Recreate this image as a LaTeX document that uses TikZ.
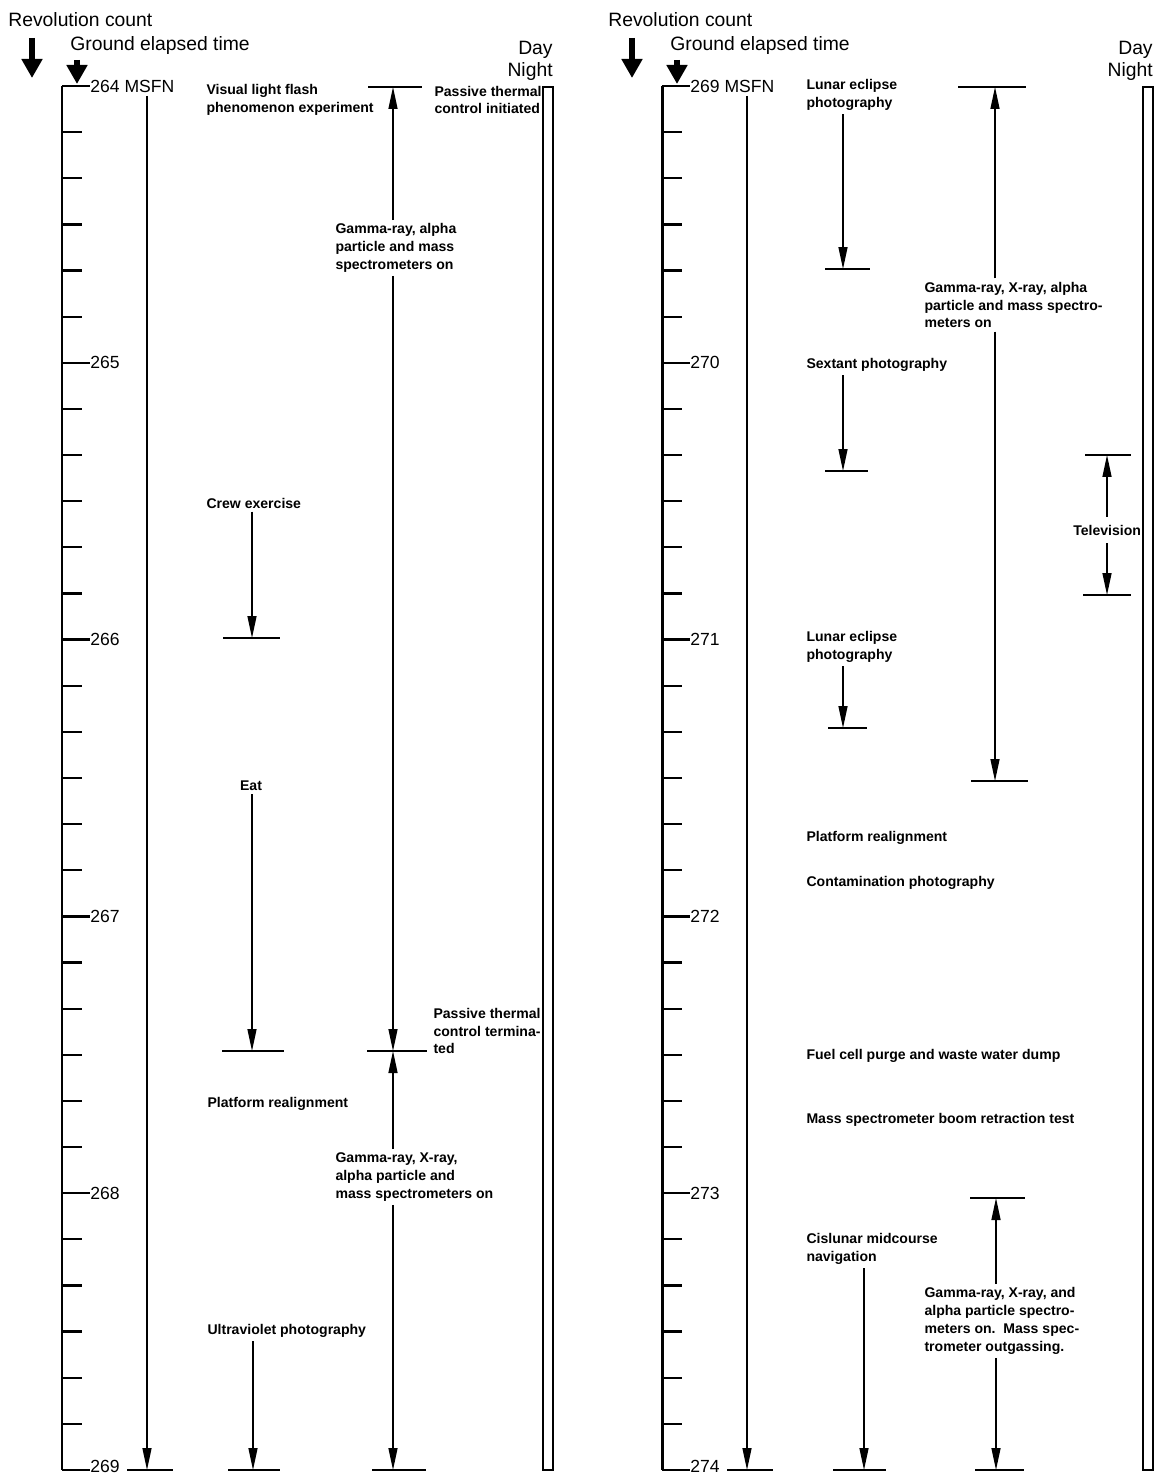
\documentclass[tikz,border=0pt]{standalone}
\usepackage{fontspec}
\setmainfont{Liberation Sans}
\usepackage{tikz}
\usetikzlibrary{arrows.meta, calc}

\tikzset{
    hdr/.style={font=\fontsize{11}{13}\selectfont, inner sep=0pt},
    hrlbl/.style={font=\fontsize{10}{12}\selectfont, anchor=west, inner sep=0pt},
    evlbl/.style={font=\fontsize{8}{10.2}\selectfont\bfseries, align=left, anchor=west, inner sep=0pt, outer sep=2pt},
    axisline/.style={line width=1.7pt},
    tickline/.style={line width=1.3pt},
    evline/.style={line width=0.8pt, -{Triangle[length=0.44cm, width=0.18cm]}},
    evbar/.style={line width=1.1pt},
    bigarrow/.style={line width=3.4pt, -{Triangle[length=0.38cm, width=0.40cm]}},
    dnbar/.style={line width=0.9pt},
}

\begin{document}
\begin{tikzpicture}[x=0.02cm, y=-0.02cm]
    \useasboundingbox (0,0) rectangle (1157,1476);

    % Two time columns, 600 apart
    \foreach \dx/\h [count=\p] in {0/264, 600/269} {
        % Headings
        \node[hdr, anchor=west] (rev\p) at (8+\dx, 20) {Revolution count};
        \node[hdr, anchor=west] (get\p) at (70+\dx, 46) {Ground elapsed time};
        \node[hdr, anchor=east] (day\p) at (553+\dx, 50) {Day};
        \node[hdr, anchor=east] (night\p) at (553+\dx, 72) {Night};
        \coordinate (revtop\p) at (32+\dx, 38);
        \coordinate (revtip\p) at (32+\dx, 78);
        \coordinate (gettop\p) at (77+\dx, 60);
        \coordinate (gettip\p) at (77+\dx, 84);
        \draw[bigarrow] (revtop\p) -- (revtip\p);
        \draw[bigarrow] (gettop\p) -- (gettip\p);

        % Time axis
        \coordinate (axtop\p) at (62+\dx, 86);
        \coordinate (axbot\p) at (62+\dx, 1470);
        \draw[axisline] (axtop\p) -- (axbot\p);
        \foreach \k in {0,...,5} {
            \pgfmathsetmacro\yy{86+276.8*\k}
            \pgfmathsetmacro\ly{\yy-4*(\k==5)}
            \pgfmathtruncatemacro\hh{\h+\k}
            \coordinate (tk\p-\k) at (62+\dx, \yy);
            \node[hrlbl] (hr\p-\k) at (90+\dx, \ly) {\hh\ifnum\k=0\ MSFN\fi};
            \draw[tickline] (tk\p-\k) -- (hr\p-\k.west |- tk\p-\k);
        }
        \foreach \k in {0,...,4}
            \foreach \m in {1,...,5}
                \draw[tickline] (62+\dx, 86+276.8*\k+46.13*\m) -- +(20,0);

        % MSFN coverage
        \coordinate (msfntop\p) at (147+\dx, 96);
        \coordinate (msfnend\p) at (147+\dx, 1470);
        \draw[evline] (msfntop\p) -- (msfnend\p);
        \draw[evbar] ($(msfnend\p)+(-20,0)$) -- ($(msfnend\p)+(26,0)$);

        % Day/night strip
        \draw[dnbar] (543+\dx, 87) rectangle (553+\dx, 1470);
    }

    % ---- Left column: 264 to 269 ----
    \node[evlbl] (vlf) at (203, 100) {Visual light flash\\phenomenon experiment};
    \node[evlbl] (ptcon) at (431, 100) {Passive thermal\\control initiated};

    \node[evlbl] (crew) at (203, 503) {Crew exercise};
    \coordinate (crewend) at (252, 638);
    \draw[evline] (crew.south -| crewend) -- (crewend);
    \draw[evbar] (223, 638) -- (280, 638);

    \node[evlbl, anchor=center] (eat) at (251, 786) {Eat};
    \coordinate (eatend) at (252, 1051);
    \draw[evline] (eat.south -| eatend) -- (eatend);
    \draw[evbar] (222, 1051) -- (284, 1051);

    \node[evlbl] (plat1) at (204, 1104) {Platform realignment};

    \node[evlbl] (uv) at (204, 1331) {Ultraviolet photography};
    \coordinate (uvend) at (253, 1470);
    \draw[evline] (uv.south -| uvend) -- (uvend);
    \draw[evbar] (228, 1470) -- (280, 1470);

    % Spectrometers, first run
    \node[evlbl] (gam1) at (332, 248) {Gamma-ray, alpha\\particle and mass\\spectrometers on};
    \coordinate (g1top) at (393, 87);
    \coordinate (g1end) at (393, 1051);
    \draw[evline] (gam1.north -| g1top) -- (g1top);
    \draw[evline] (gam1.south -| g1end) -- (g1end);
    \draw[evbar] (368, 87) -- (422, 87);
    \draw[evbar] (367, 1051) -- (427, 1051);
    \node[evlbl] (ptcoff) at (430, 1031) {Passive thermal\\control termina-\\ted};

    % Spectrometers, second run
    \node[evlbl] (gam2) at (332, 1177) {Gamma-ray, X-ray,\\alpha particle and\\mass spectrometers on};
    \coordinate (g2end) at (393, 1470);
    \draw[evline] (gam2.north -| g1end) -- (g1end);
    \draw[evline] (gam2.south -| g2end) -- (g2end);
    \draw[evbar] (372, 1470) -- (426, 1470);

    % ---- Right column: 269 to 274 ----
    \node[evlbl] (lun1) at (803, 95) {Lunar eclipse\\photography};
    \coordinate (lun1end) at (843, 269);
    \draw[evline] (lun1.south -| lun1end) -- (lun1end);
    \draw[evbar] (825, 269) -- (870, 269);

    \node[evlbl] (sext) at (803, 365) {Sextant photography};
    \coordinate (sextend) at (843, 471);
    \draw[evline] (sext.south -| sextend) -- (sextend);
    \draw[evbar] (825, 471) -- (868, 471);

    \node[evlbl] (lun2) at (803, 647) {Lunar eclipse\\photography};
    \coordinate (lun2end) at (843, 728);
    \draw[evline] (lun2.south -| lun2end) -- (lun2end);
    \draw[evbar] (828, 728) -- (867, 728);

    \node[evlbl] (plat2) at (803, 838) {Platform realignment};
    \node[evlbl] (contam) at (803, 883) {Contamination photography};
    \node[evlbl] (fuel) at (803, 1056) {Fuel cell purge and waste water dump};
    \node[evlbl] (boom) at (803, 1120) {Mass spectrometer boom retraction test};

    \node[evlbl] (cis) at (803, 1249) {Cislunar midcourse\\navigation};
    \coordinate (cisend) at (864, 1470);
    \draw[evline] (cis.south -| cisend) -- (cisend);
    \draw[evbar] (833, 1470) -- (886, 1470);

    % Spectrometers, third run
    \node[evlbl] (gam3) at (921, 305) {Gamma-ray, X-ray, alpha\\particle and mass spectro-\\meters on};
    \coordinate (g3top) at (995, 87);
    \coordinate (g3end) at (995, 781);
    \draw[evline] (gam3.north -| g3top) -- (g3top);
    \draw[evline] (gam3.south -| g3end) -- (g3end);
    \draw[evbar] (958, 87) -- (1026, 87);
    \draw[evbar] (971, 781) -- (1028, 781);

    % Television
    \node[evlbl, anchor=east, outer sep=0pt] (tv) at (1141, 530) {Television};
    \coordinate (tvtop) at (1107, 455);
    \coordinate (tvend) at (1107, 595);
    \draw[evline] ($(tv.north -| tvtop)+(0,-8)$) -- (tvtop);
    \draw[evline] ($(tv.south -| tvend)+(0,8)$) -- (tvend);
    \draw[evbar] (1085, 455) -- (1131, 455);
    \draw[evbar] (1083, 595) -- (1131, 595);

    % Spectrometers, fourth run
    \node[evlbl] (gam4) at (921, 1321) {Gamma-ray, X-ray, and\\alpha particle spectro-\\meters on.\ \ Mass spec-\\trometer outgassing.};
    \coordinate (g4top) at (996, 1198);
    \coordinate (g4end) at (996, 1470);
    \draw[evline] (gam4.north -| g4top) -- (g4top);
    \draw[evline] (gam4.south -| g4end) -- (g4end);
    \draw[evbar] (970, 1198) -- (1025, 1198);
    \draw[evbar] (975, 1470) -- (1024, 1470);
\end{tikzpicture}
\end{document}
